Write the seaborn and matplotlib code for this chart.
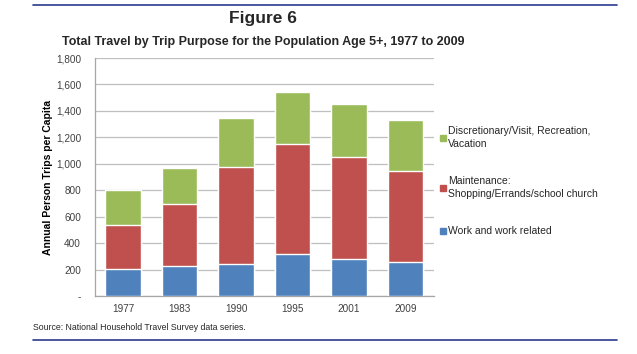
import numpy as np
import pandas as pd
import matplotlib
matplotlib.use("Agg")
import matplotlib.pyplot as plt
from matplotlib.lines import Line2D
import seaborn as sns

years = ["1977", "1983", "1990", "1995", "2001", "2009"]
work = [207, 230, 245, 321, 283, 260]
maintenance = [331, 462, 732, 830, 767, 684]
discretionary = [260, 278, 366, 392, 399, 384]

labels = ["Discretionary/Visit, Recreation,\nVacation",
          "Maintenance:\nShopping/Errands/school church",
          "Work and work related"]
colors = ["#9BBB59", "#C0504D", "#4F81BD"]

sns.set_theme(style="white")
plt.rcParams["font.family"] = ["Liberation Sans", "DejaVu Sans"]

df = pd.DataFrame({"year": years, "work": work,
                   "maintenance": maintenance, "discretionary": discretionary})
df["lvl2"] = df["work"] + df["maintenance"]
df["lvl3"] = df["lvl2"] + df["discretionary"]

fig = plt.figure(figsize=(6.37, 3.54), dpi=100)
ax = fig.add_axes([0.149, 0.164, 0.532, 0.672])

# stacked look: draw cumulative totals back to front
for col, c in zip(["lvl3", "lvl2", "work"], colors):
    sns.barplot(data=df, x="year", y=col, color=c, width=0.63,
                saturation=1, ax=ax, zorder=3)

ax.set_ylim(0, 1800)
ax.set_yticks(range(0, 1801, 200))
ax.set_yticklabels(["-"] + [f"{v:,}" for v in range(200, 1801, 200)])
ax.yaxis.grid(True, color="#BFBFBF", lw=0.9, zorder=0)
ax.set_axisbelow(True)
for s in ["top", "right"]:
    ax.spines[s].set_visible(False)
for s in ["left", "bottom"]:
    ax.spines[s].set_color("#A6A6A6")
    ax.spines[s].set_linewidth(0.9)
ax.tick_params(axis="both", labelsize=7.2, colors="#404040", length=0)
ax.tick_params(axis="y", pad=10)
ax.tick_params(axis="x", pad=6)
ax.set_xlabel("")
ax.set_ylabel("Annual Person Trips per Capita", fontsize=7.5,
              fontweight="bold", color="black", labelpad=2)

handles = [Line2D([], [], marker="s", ls="", color=c, markersize=5) for c in colors]
leg = fig.legend(handles, labels, loc="upper left", bbox_to_anchor=(0.682, 0.655),
                 frameon=False, fontsize=7.5, handletextpad=0.1, labelspacing=2.65,
                 handlelength=0.8, borderaxespad=0)
for t in leg.get_texts():
    t.set_linespacing(1.3)

fig.text(0.413, 0.948, "Figure 6", ha="center", va="center",
         fontsize=12.5, fontweight="bold")
fig.text(0.413, 0.88, "Total Travel by Trip Purpose for the Population Age 5+, 1977 to 2009",
         ha="center", va="center", fontsize=9, fontweight="bold")
fig.text(0.052, 0.076, "Source: National Household Travel Survey data series.",
         ha="left", va="center", fontsize=6.3)

fig.add_artist(Line2D([0.052, 0.968], [0.985, 0.985], color="#2B3A8C", lw=1.2))
fig.add_artist(Line2D([0.052, 0.968], [0.04, 0.04], color="#2B3A8C", lw=1.2))

fig.savefig("out.png", dpi=100)
